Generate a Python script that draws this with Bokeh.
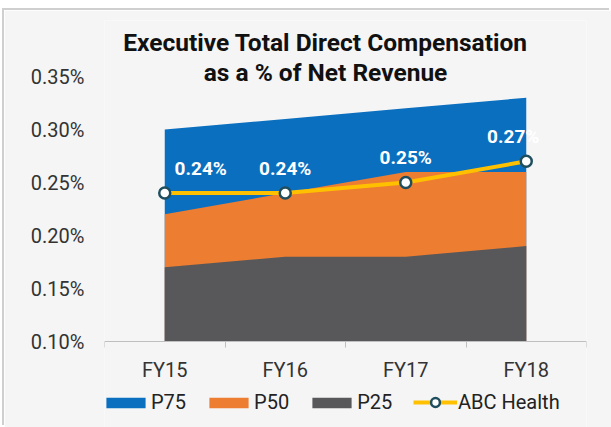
from bokeh.plotting import figure
from bokeh.models import (ColumnDataSource, Range1d, FixedTicker, PrintfTickFormatter,
                          Label, LabelSet, Legend, LegendItem)
from bokeh.core.properties import value
from bokeh.embed import file_html
from bokeh.resources import INLINE

# ---- data ----
categories = ["FY15", "FY16", "FY17", "FY18"]
p75 = [0.30, 0.31, 0.32, 0.33]
p50 = [0.22, 0.24, 0.26, 0.26]
p25 = [0.17, 0.18, 0.18, 0.19]
abc_health = [0.24, 0.24, 0.25, 0.27]
y_ticks = [0.10, 0.15, 0.20, 0.25, 0.30, 0.35]
title_lines = ["Executive Total Direct Compensation", "as a % of Net Revenue"]

# ---- styles ----
BLUE = "#0B6FC0"
ORANGE = "#ED7D31"
GRAY = "#58585A"
YELLOW = "#FFC000"
BG = "#F5F5F5"
FONT = "Roboto"
label_dx = [36, 0, 0, -13]
# frame extends above/below the tick span so that title and legend sit inside it
Y_TOP = 0.40283
Y_BOTTOM = 0.01887

x = [i + 0.5 for i in range(len(categories))]
source = ColumnDataSource(dict(
    x=x, p75=p75, p50=p50, p25=p25, abc=abc_health,
    label=[f"{v:.2f}%" for v in abc_health], dx=label_dx,
))

p = figure(width=607, height=417,
           x_range=Range1d(0, len(categories)), y_range=Range1d(Y_BOTTOM, Y_TOP),
           output_backend="svg", toolbar_location=None,
           min_border_left=100, min_border_right=25, min_border_top=10, min_border_bottom=0,
           background_fill_color=BG, border_fill_color=BG, outline_line_color=None)
p.margin = (10, 0, 0, 4)
p.styles = {"box-shadow": "-2px -2px 0 0 #CFCFCF"}

base = y_ticks[0]
r75 = p.varea(x="x", y1=base, y2="p75", source=source, fill_color=BLUE)
r50 = p.varea(x="x", y1=base, y2="p50", source=source, fill_color=ORANGE)
r25 = p.varea(x="x", y1=base, y2="p25", source=source, fill_color=GRAY)
rl = p.line("x", "abc", source=source, line_color=YELLOW, line_width=4)
rs = p.scatter("x", "abc", source=source, size=11, fill_color="white",
               line_color="#1F4E5F", line_width=2.5)

labels = LabelSet(x="x", y="abc", text="label", source=source,
                  x_offset="dx", y_offset=25, text_align="center", text_baseline="middle",
                  text_color="white", text_font=value(FONT), text_font_style="bold",
                  text_font_size="19px")
p.add_layout(labels)

# axes
p.xgrid.visible = False
p.ygrid.visible = False

xa = p.xaxis[0]
xa.fixed_location = base
xa.ticker = FixedTicker(ticks=x, minor_ticks=list(range(len(categories) + 1)))
xa.major_label_overrides = {xi: c for xi, c in zip(x, categories)}
xa.major_tick_out = 0
xa.major_tick_in = 0
xa.minor_tick_out = 6
xa.minor_tick_in = 0
xa.minor_tick_line_color = "#BFBFBF"
xa.axis_line_color = "#BFBFBF"
xa.major_label_standoff = 10
xa.major_label_text_font = FONT
xa.major_label_text_font_size = "20px"
xa.major_label_text_color = "#333333"

ya = p.yaxis[0]
ya.ticker = FixedTicker(ticks=y_ticks, minor_ticks=[])
ya.formatter = PrintfTickFormatter(format="%.2f%%")
ya.axis_line_color = None
ya.major_tick_out = 0
ya.major_tick_in = 0
ya.minor_tick_out = 0
ya.major_label_standoff = 20
ya.major_label_text_font = FONT
ya.major_label_text_font_size = "20px"
ya.major_label_text_color = "#333333"

# title (screen units relative to the plot frame's bottom-left)
for i, t in enumerate(title_lines):
    p.add_layout(Label(x=221, y=385 - 30 * i, x_units="screen", y_units="screen",
                       text=t, text_align="center", text_baseline="alphabetic",
                       text_font=FONT, text_font_style="bold", text_font_size="24.5px",
                       text_color="#111111"))

common = dict(orientation="horizontal", label_standoff=1, spacing=18, padding=0, margin=0,
              border_line_color=None, background_fill_alpha=0, label_text_font=FONT,
              label_text_font_size="20px", label_text_color="#222222")
legend1 = Legend(items=[
    LegendItem(label="P75", renderers=[r75]),
    LegendItem(label="P50", renderers=[r50]),
    LegendItem(label="P25", renderers=[r25]),
], location=(-3, 13), glyph_width=49, glyph_height=13, **common)
legend2 = Legend(items=[
    LegendItem(label="ABC Health", renderers=[rl, rs]),
], location=(309, 13), glyph_width=44, glyph_height=22, **common)
p.add_layout(legend1)
p.add_layout(legend2)

open("out.html", "w").write(file_html(p, INLINE))
